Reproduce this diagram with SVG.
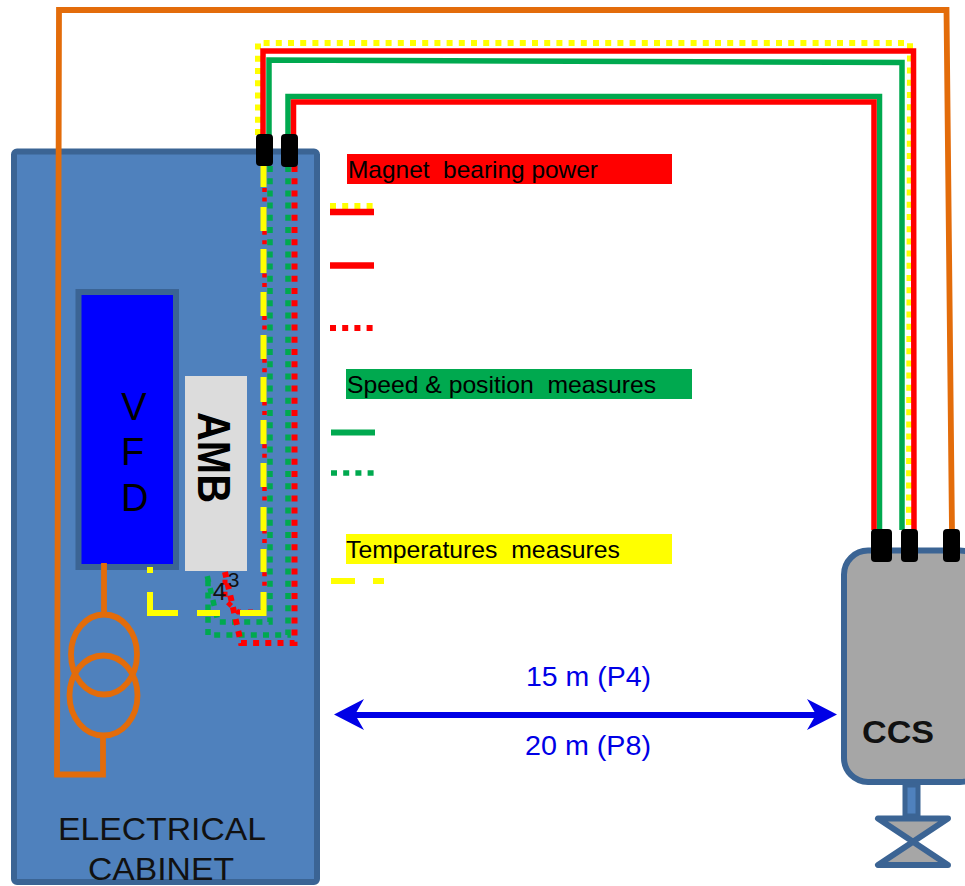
<svg xmlns="http://www.w3.org/2000/svg" width="965" height="886" viewBox="0 0 965 886">
<style>
text{font-family:"Liberation Sans",Arial,sans-serif}
.w{fill:none;stroke-linejoin:miter}
.o{stroke:#e36c0a;stroke-width:5.800}
.r{stroke:#ff0000;stroke-width:5.500}
.g{stroke:#00a94f;stroke-width:5.500}
.yd{stroke:#ffff00;stroke-width:6;stroke-dasharray:6 6.200}
.rd{stroke:#ff0000;stroke-width:6;stroke-dasharray:6 6.200}
.gd{stroke:#00a94f;stroke-width:5.500;stroke-dasharray:6 6.200}
.c{fill:#000;stroke:none}
.b{stroke:#3b6494;stroke-width:6}
.leg{font-size:24px;fill:#000}
.dim{font-size:27px;fill:#0000e6}
</style>
<g id="cabinet">
<rect x="14" y="151.500" width="303" height="730.500" rx="3" fill="#4f81bd" class="b"/>
<text x="58" y="840" font-size="31" textLength="208" lengthAdjust="spacingAndGlyphs" fill="#111">ELECTRICAL</text>
<text x="88" y="880" font-size="31" textLength="146" lengthAdjust="spacingAndGlyphs" fill="#111">CABINET</text>
</g>
<g id="vfd">
<rect x="78.500" y="292" width="97.500" height="275" fill="#0000ff" class="b"/>
<text x="134" y="420" font-size="38" text-anchor="middle" fill="#000">V</text>
<text x="121" y="465" font-size="38" fill="#000">F</text>
<text x="121" y="511" font-size="38" fill="#000">D</text>
</g>
<g id="amb">
<rect x="185" y="376" width="62" height="195" fill="#dcdcdc"/>
<text transform="translate(198 412) rotate(90)" font-size="47" font-weight="bold" textLength="91" lengthAdjust="spacingAndGlyphs" fill="#000">AMB</text>
</g>
<g id="transformer">
<ellipse cx="104" cy="654.500" rx="33" ry="40" class="w o"/>
<ellipse cx="103.500" cy="695.500" rx="34" ry="40" class="w o"/>
</g>
<g id="ccs">
<rect x="844" y="550.500" width="140" height="231.500" rx="24" fill="#a6a6a6" class="b"/>
<text x="862" y="743" font-size="32" font-weight="bold" textLength="72" lengthAdjust="spacingAndGlyphs" fill="#111">CCS</text>
<rect x="905" y="785" width="13" height="31" fill="#4f81bd" stroke="#3b6494" stroke-width="5"/>
<path d="M878 818.500H948L878 865H948Z" fill="#a6a6a6" stroke="#3b6494" stroke-width="6" stroke-linejoin="round"/>
</g>
<g id="connectors">
<path class="w o" d="M104 563V614M103 736V774.500H57L59 10H946.500L952 532"/>
<path class="w yd" d="M258 135V43H910L909 530"/>
<path class="w r" d="M263 135V51H913.500L914 530"/>
<path class="w g" d="M269 135V60L902 62.500V530"/>
<path class="w g" d="M288 135V96.500H879.500V530"/>
<path class="w r" d="M293.500 135V102H874V530"/>
<path class="w gd" d="M270 166V622H218L207 575"/>
<path class="w gd" d="M288 166V635H208V575"/>
<path class="w rd" d="M294.500 166V643H241L225 572"/>
<path class="w" stroke="#ff0000" stroke-width="4.500" stroke-dasharray="4 5.500 4 29.200" d="M264.500 188V612"/>
<path class="w" stroke="#ff0000" stroke-width="5" stroke-dasharray="5 7" d="M265 612H238L225 600V575"/>
<path class="w" stroke="#ffff00" stroke-width="6" d="M263.500 164V187M263.500 207V231M263.500 249V273M263.500 292V316M263.500 335V359M263.500 377V402M263.500 420V444M263.500 463V487M263.500 507V531M263.500 549V572M263.500 592V613H240M220 613H197M178 613H150V592M150 567V573"/>
<path class="w" stroke="#0000e6" stroke-width="6" d="M352 715H818"/>
<path fill="#0000e6" d="M334 714.500L364 699L355 714.500L364 730ZM837 714.500L807 699L816 714.500L807 730Z"/>
</g>
<g id="plugs">
<rect class="c" x="256" y="134" width="17" height="32" rx="4"/>
<rect class="c" x="281" y="134" width="17" height="33" rx="4"/>
<rect class="c" x="871" y="529" width="21" height="33" rx="4"/>
<rect class="c" x="901" y="529" width="17" height="33" rx="4"/>
<rect class="c" x="943" y="529" width="17" height="33" rx="4"/>
</g>
<g id="legend">
<rect x="347" y="154" width="325" height="30" fill="#ff0000"/>
<text x="348" y="178" class="leg" textLength="250" lengthAdjust="spacingAndGlyphs" xml:space="preserve">Magnet  bearing power</text>
<rect x="346" y="369" width="346" height="30" fill="#00a94f"/>
<text x="347" y="393" class="leg" textLength="309" lengthAdjust="spacingAndGlyphs" xml:space="preserve">Speed &amp; position  measures</text>
<rect x="346" y="534" width="326" height="30" fill="#ffff00"/>
<text x="346" y="558" class="leg" textLength="274" lengthAdjust="spacingAndGlyphs" xml:space="preserve">Temperatures  measures</text>
<path class="w yd" d="M330 206H374"/>
<path class="w" stroke="#ff0000" stroke-width="6.500" d="M330 212H374"/>
<path class="w" stroke="#ff0000" stroke-width="6.500" d="M330 265.500H374"/>
<path class="w rd" d="M330 328H374"/>
<path class="w" stroke="#00a94f" stroke-width="6" d="M331 432.500H375"/>
<path class="w gd" d="M331 473H375"/>
<path class="w" stroke="#ffff00" stroke-width="6" d="M331 581H355M373 581H384"/>
</g>
<text x="526" y="686" class="dim" textLength="125" lengthAdjust="spacingAndGlyphs">15 m (P4)</text>
<text x="525" y="755" class="dim" textLength="126" lengthAdjust="spacingAndGlyphs">20 m (P8)</text>
<text x="219.500" y="600" font-size="24" text-anchor="middle" fill="#111">4</text>
<text x="233.500" y="587" font-size="21" text-anchor="middle" fill="#111">3</text>
</svg>
